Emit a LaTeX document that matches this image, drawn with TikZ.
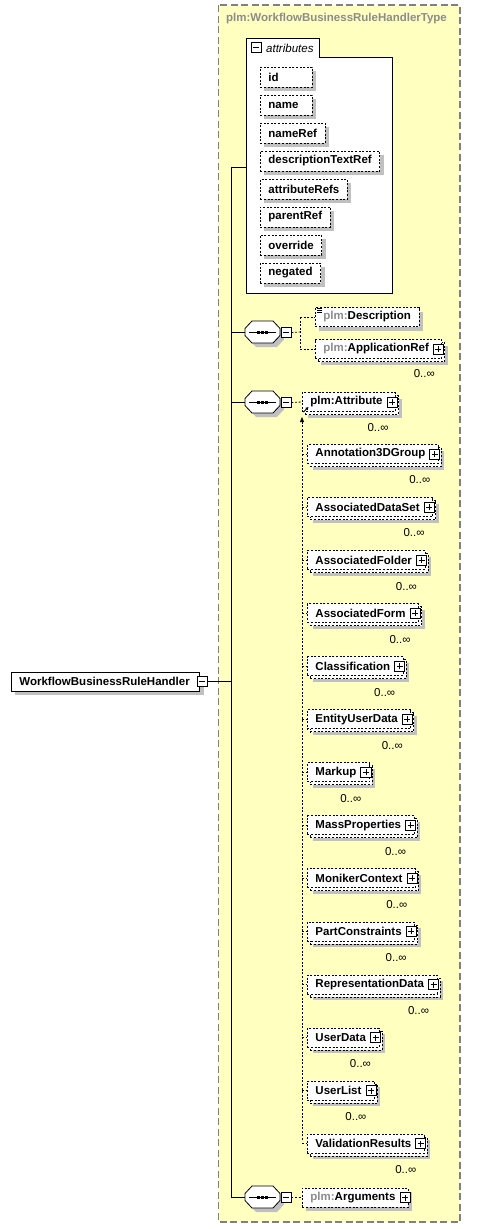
\documentclass[tikz,border=0pt]{standalone}
\usepackage{fontspec}
\setmainfont{Liberation Sans}
\usetikzlibrary{shadows,arrows.meta}
\definecolor{bgyellow}{RGB}{255,255,192}
\definecolor{titlegray}{RGB}{140,140,140}
\definecolor{shgray}{RGB}{192,192,192}
\definecolor{bordergray}{RGB}{128,128,128}
\begin{document}
\begin{tikzpicture}[x=1pt,y=-1pt,
  every node/.style={font=\fontsize{11.5}{13}\selectfont\bfseries},
  lw/.style={line width=0.8pt},
  dsh/.style={dash pattern=on 2pt off 1.6pt},
  sh/.style={general shadow={shadow xshift=4pt,shadow yshift=-4pt,fill=shgray}},
  shm/.style={general shadow={shadow xshift=6pt,shadow yshift=-6pt,fill=shgray}},
  cp/.style={general shadow={shadow xshift=3pt,shadow yshift=-3pt,draw,dsh,line width=0.9pt,fill=white}},
  singlebox/.style={draw,dsh,line width=0.9pt,fill=white,inner xsep=8pt,inner ysep=0pt,minimum height=19pt,anchor=west,sh},
  multibox/.style={draw,dsh,line width=0.9pt,fill=white,inner xsep=8pt,inner ysep=0pt,minimum height=19pt,anchor=west,shm,cp},
  attrbox/.style={singlebox,minimum height=20pt,minimum width=52pt},
  shortattr/.style={text width=36pt,align=left},
  rootbox/.style={draw,line width=0.8pt,fill=white,inner xsep=8pt,inner ysep=0pt,minimum height=19pt,anchor=west,sh},
  minusbox/.style={draw,fill=white,line width=0.8pt,minimum size=10pt,inner sep=0pt,
    path picture={\draw[line width=0.8pt] ([xshift=-3pt]path picture bounding box.center) -- ([xshift=3pt]path picture bounding box.center);}},
  plusbox/.style={draw,fill=white,line width=0.8pt,minimum size=10pt,inner sep=0pt,
    path picture={\draw[line width=0.8pt] ([xshift=-3pt]path picture bounding box.center) -- ([xshift=3pt]path picture bounding box.center);
      \draw[line width=0.8pt] ([yshift=-3pt]path picture bounding box.center) -- ([yshift=3pt]path picture bounding box.center);}},
  card/.style={font=\fontsize{11.5}{13}\selectfont\mdseries,inner sep=0pt},
  seqcomp/.pic={
    \path[fill=shgray,shift={(4,4)}] (-17.5,-3.5) -- (-10.5,-11) -- (10.5,-11) -- (17.5,-3.5) -- (17.5,3.5) -- (10.5,11) -- (-10.5,11) -- (-17.5,3.5) -- cycle;
    \draw[fill=white,line width=0.8pt] (-17.5,-3.5) -- (-10.5,-11) -- (10.5,-11) -- (17.5,-3.5) -- (17.5,3.5) -- (10.5,11) -- (-10.5,11) -- (-17.5,3.5) -- cycle;
    \draw[line width=0.8pt] (-13.5,0) -- (13.5,0);
    \foreach \dx in {-4,0,4} {\fill ({\dx-1.3},-1.5) rectangle ({\dx+1.3},1.5);}
    \coordinate (-w) at (-17.5,0);
    \node[minusbox] (-m) at (23.5,0.5) {};
  }
]
\useasboundingbox (0,0) rectangle (498,1229);
% complex type container
\draw[fill=bgyellow,draw=bordergray,line width=1.2pt,dash pattern=on 7pt off 3.5pt] (218.5,5) rectangle (460,1222);
\node[anchor=west,inner sep=0pt,text=titlegray] (title) at (226,19) {plm:WorkflowBusinessRuleHandlerType};

% attributes container
\draw[fill=white,line width=0.8pt] (246,293) -- (246,38) -- (319,38) -- (319,57) -- (392,57) -- (392,293) -- cycle;
\node[minusbox] (attrm) at (256,47.5) {};
\node[anchor=west,inner sep=0pt,font=\fontsize{11.5}{13}\selectfont\itshape] (attrlbl) at (266,48) {attributes};
\node[attrbox,shortattr] (a0) at (260,77) {id};
\node[attrbox,shortattr] (a1) at (260,105) {name};
\node[attrbox] (a2) at (260,133) {nameRef};
\node[attrbox] (a3) at (260,161) {descriptionTextRef};
\node[attrbox] (a4) at (260,189) {attributeRefs};
\node[attrbox] (a5) at (260,217) {parentRef};
\node[attrbox] (a6) at (260,245) {override};
\node[attrbox] (a7) at (260,273) {negated};

% trunk
\coordinate (ttop) at (231,167);
\coordinate (tbot) at (231,1197);
\coordinate (attrjoin) at (246,167);
\draw[lw] (ttop) -- (attrjoin);
\draw[lw] (ttop) -- (tbot);

% root element
\node[rootbox] (root) at (11,681.5) {WorkflowBusinessRuleHandler\kern2pt};
\node[minusbox] (rootm) at ([xshift=2pt]root.east) {};
\draw[lw] (rootm.east) -- (rootm.east -| ttop);

% sequence 1
\pic (s1) at (262.5,332) {seqcomp};
\draw[lw] (s1-w) -- (s1-w -| ttop);
\node[singlebox] (desc) at (315,317) {\textcolor{titlegray}{plm:}Description};
\draw[line width=0.6pt] (317,308) -- (322,308) (317,310) -- (322,310) (317,312) -- (322,312);
\node[multibox] (appref) at (315,349) {\textcolor{titlegray}{plm:}ApplicationRef\kern5pt};
\node[plusbox,anchor=east] (apprefp) at ([xshift=1.5pt]appref.east) {};
\node[card] (apprefc) at ([xshift=-18pt,yshift=-15pt]appref.south east) {0..∞};
\coordinate (b1) at (300,332);
\draw[lw,dsh] (s1-m.east) -- (b1);
\draw[lw,dsh] (desc.west -| b1) -- (appref.west -| b1);
\draw[lw,dsh] (desc.west -| b1) -- (desc.west);
\draw[lw,dsh] (appref.west -| b1) -- (appref.west);

% sequence 2
\pic (s2) at (262.5,402) {seqcomp};
\draw[lw] (s2-w) -- (s2-w -| ttop);
\node[multibox] (attr) at (302,402) {plm:Attribute\kern5pt};
\node[plusbox,anchor=east] (attrp) at ([xshift=1.5pt]attr.east) {};
\node[card] (attrc) at ([xshift=-18pt,yshift=-16pt]attr.south east) {0..∞};
\draw[lw,dsh] (s2-m.east) -- (attr.west);
\draw[line width=0.8pt,-{Triangle[length=3pt,width=3pt]}] (303.5,412) -- (308.5,407);
\coordinate (ltop) at (302,417);
\coordinate (lbot) at (302,1140);
\draw[lw,dsh,-{Triangle[length=5pt,width=4pt]}] (lbot) -- (ltop);
\foreach \n [count=\i from 0] in {Annotation3DGroup,AssociatedDataSet,AssociatedFolder,AssociatedForm,Classification,EntityUserData,Markup,MassProperties,MonikerContext,PartConstraints,RepresentationData,UserData,UserList,ValidationResults} {
  \node[multibox] (e\i) at (307,{454+53.05*\i}) {\n\kern5pt};
  \node[plusbox,anchor=east] (ep\i) at ([xshift=1.5pt]e\i.east) {};
  \node[card] (ec\i) at ([xshift=-19pt,yshift=-16pt]e\i.south east) {0..∞};
  \draw[lw,dsh] (e\i.west -| ltop) -- (e\i.west);
}

% sequence 3
\pic (s3) at (262.5,1197) {seqcomp};
\draw[lw] (s3-w) -- (tbot);
\node[singlebox] (args) at (302,1197.5) {\textcolor{titlegray}{plm:}Arguments\kern5pt};
\node[plusbox,anchor=east] (argsp) at ([xshift=1.5pt]args.east) {};
\draw[lw,dsh] (s3-m.east) -- (args.west);
\end{tikzpicture}
\end{document}
